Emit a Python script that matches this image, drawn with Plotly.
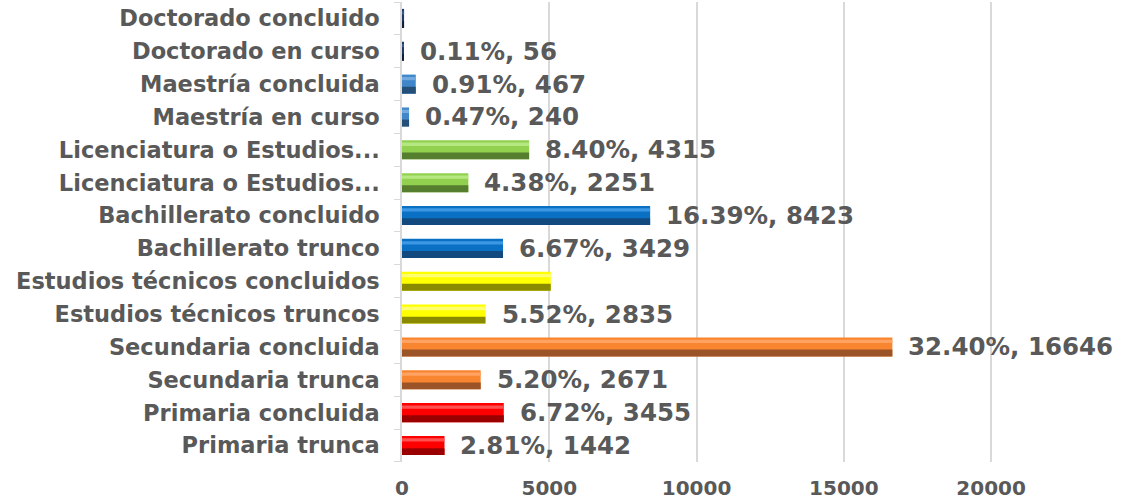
import plotly.graph_objects as go

categories = [
    "Primaria trunca", "Primaria concluida", "Secundaria trunca", "Secundaria concluida",
    "Estudios técnicos truncos", "Estudios técnicos concluidos", "Bachillerato trunco",
    "Bachillerato concluido", "Licenciatura o Estudios...", "Licenciatura o Estudios...\u200b",
    "Maestría en curso", "Maestría concluida", "Doctorado en curso", "Doctorado concluido",
]
values = [1442, 3455, 2671, 16646, 2835, 5050, 3429, 8423, 2251, 4315, 240, 467, 56, 70]
percents = ["2.81%", "6.72%", "5.20%", "32.40%", "5.52%", "", "6.67%", "16.39%",
            "4.38%", "8.40%", "0.47%", "0.91%", "0.11%", ""]
x_ticks = [0, 5000, 10000, 15000, 20000]
x_tick_text = ["0", "5000", "10000", "15000", "20000"]

main_colors = ["#FF0000", "#FF0000", "#F8852F", "#F8852F", "#FFFF00", "#FFFF00",
               "#0A70C4", "#0A70C4", "#92D050", "#92D050", "#3F87C9", "#3F87C9",
               "#1F3864", "#1F3864"]
light_colors = ["#FF5050", "#FF5050", "#FFA262", "#FFA262", "#FFFF70", "#FFFF70",
                "#3C98E4", "#3C98E4", "#B6E881", "#B6E881", "#72AADF", "#72AADF",
                "#3A5A8F", "#3A5A8F"]
dark_colors = ["#9A0000", "#9A0000", "#9A5428", "#9A5428", "#8A8A00", "#8A8A00",
               "#124A80", "#124A80", "#557F2E", "#557F2E", "#244F78", "#244F78",
               "#10203A", "#10203A"]

FONT = "DejaVu Sans"
BW = 0.58
fig = go.Figure()
fig.add_trace(go.Bar(y=categories, x=values, orientation="h", width=BW,
                     marker=dict(color=main_colors, line=dict(width=0)), hoverinfo="x+y"))
fig.add_trace(go.Bar(y=categories, x=values, orientation="h", width=0.10, offset=BW / 2 - 0.17,
                     marker=dict(color=light_colors, line=dict(width=0)), hoverinfo="skip"))
fig.add_trace(go.Bar(y=categories, x=values, orientation="h", width=0.21, offset=-BW / 2,
                     marker=dict(color=dark_colors, line=dict(width=0)), hoverinfo="skip"))

for c, v, p in zip(categories, values, percents):
    if p:
        fig.add_annotation(x=v, y=c, text=f"{p}, {v}", xanchor="left", yanchor="middle",
                           xshift=14, showarrow=False,
                           font=dict(family=FONT, size=24.5, color="#595959", weight=700))

fig.update_layout(
    width=1121, height=500, barmode="overlay", showlegend=False,
    paper_bgcolor="white", plot_bgcolor="white",
    margin=dict(l=402, r=12, t=2, b=38),
    font=dict(family=FONT, color="#595959"),
)
fig.update_xaxes(range=[0, 24000], tickvals=x_ticks, ticktext=x_tick_text, showgrid=True,
                 gridcolor="#D9D9D9", gridwidth=1.5, zeroline=False, showline=False,
                 automargin=False,
                 tickfont=dict(family=FONT, size=20, color="#595959", weight=700),
                 ticklabelstandoff=12)
fig.update_yaxes(categoryorder="array", categoryarray=categories, showline=True,
                 linecolor="#D9D9D9", linewidth=1.5, ticks="outside", ticklen=6,
                 tickson="boundaries", tickcolor="#D9D9D9", ticklabelstandoff=16,
                 automargin=False,
                 tickfont=dict(family=FONT, size=22.5, color="#595959", weight=700))

fig.write_html("out.html", post_script="document.body.style.margin='0px';",
               config={"displayModeBar": False})
